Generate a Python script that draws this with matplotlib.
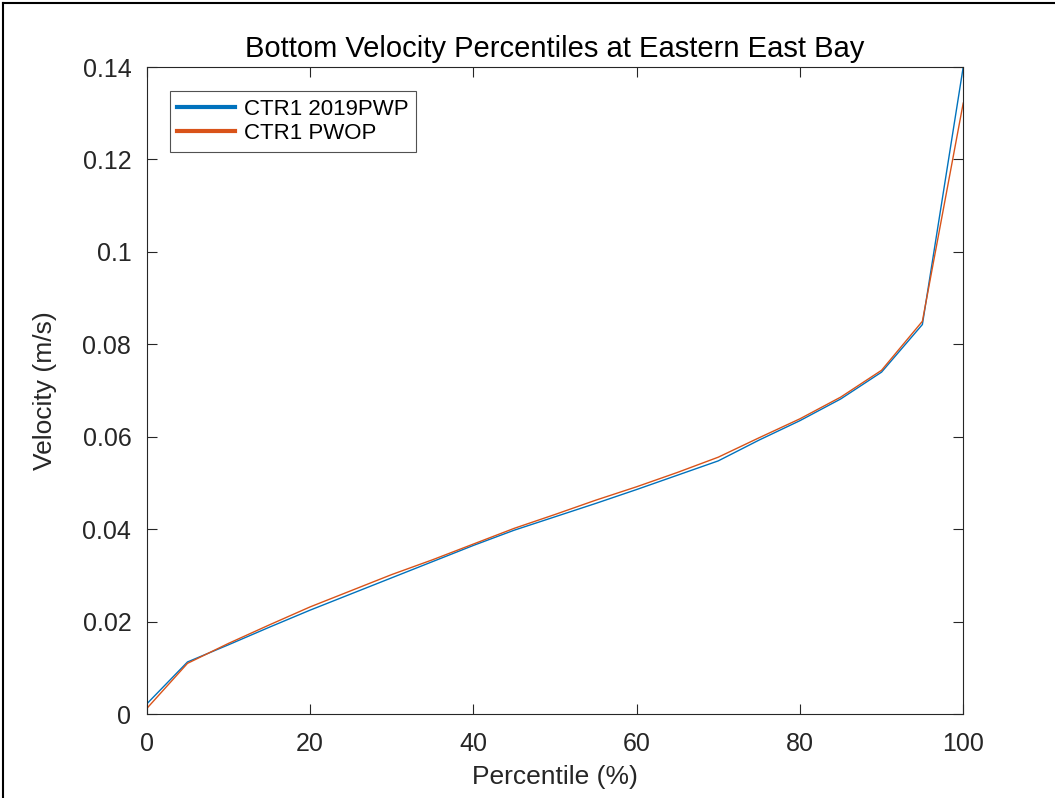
import matplotlib.pyplot as plt
from matplotlib.lines import Line2D

plt.rcParams['font.family'] = ['Liberation Sans', 'DejaVu Sans']

# percentiles and bottom velocity values (m/s)
percentile = [0, 5, 10, 15, 20, 25, 30, 35, 40, 45, 50,
              55, 60, 65, 70, 75, 80, 85, 90, 95, 100]
vel_2019pwp = [0.0022, 0.0113, 0.0150, 0.0188, 0.0225, 0.0260, 0.0295, 0.0330,
               0.0365, 0.0398, 0.0427, 0.0456, 0.0486, 0.0517, 0.0548, 0.0593,
               0.0635, 0.0682, 0.0740, 0.0843, 0.1400]
vel_pwop = [0.0012, 0.0110, 0.0153, 0.0193, 0.0232, 0.0267, 0.0302, 0.0334,
            0.0368, 0.0402, 0.0432, 0.0463, 0.0492, 0.0523, 0.0556, 0.0598,
            0.0639, 0.0686, 0.0744, 0.0850, 0.1322]

labels = ["CTR1 2019PWP", "CTR1 PWOP"]
colors = ["#0072BD", "#D95319"]

fig = plt.figure(figsize=(10.55, 7.98), dpi=100)
ax = fig.add_axes([0.139, 0.105, 0.774, 0.811])

ax.plot(percentile, vel_2019pwp, color=colors[0], lw=1.0)
ax.plot(percentile, vel_pwop, color=colors[1], lw=1.0)

ax.set_xlim(0, 100)
ax.set_ylim(0, 0.14)
ax.set_xticks([0, 20, 40, 60, 80, 100])
ax.set_yticks([0, 0.02, 0.04, 0.06, 0.08, 0.1, 0.12, 0.14])
ax.set_yticklabels(["0", "0.02", "0.04", "0.06", "0.08", "0.1", "0.12", "0.14"])
ax.tick_params(direction='in', top=True, right=True, length=7, width=0.8,
               labelsize=18, colors='#262626')
ax.tick_params(axis='x', pad=13)
ax.tick_params(axis='y', pad=11)
for s in ax.spines.values():
    s.set_color('#262626')
    s.set_linewidth(0.8)

ax.set_title("Bottom Velocity Percentiles at Eastern East Bay", fontsize=21, pad=7)
ax.set_xlabel("Percentile (%)", fontsize=19, color='#262626', labelpad=6)
ax.set_ylabel("Velocity (m/s)", fontsize=19, color='#262626', labelpad=18)

handles = [Line2D([], [], color=c, lw=3) for c in colors]
leg = ax.legend(handles, labels, loc='upper left', bbox_to_anchor=(0.028, 0.963),
                borderaxespad=0, fontsize=16, frameon=True, fancybox=False,
                handlelength=2.6, handletextpad=0.4, borderpad=0.35,
                labelspacing=0.15)
leg.get_frame().set_edgecolor('#262626')
leg.get_frame().set_linewidth(0.8)

# outer frame of the picture
fig.add_artist(Line2D([0.003, 0.003], [0, 0.996], color='black', lw=1.5,
                      transform=fig.transFigure))
fig.add_artist(Line2D([0.003, 1.0], [0.996, 0.996], color='black', lw=1.5,
                      transform=fig.transFigure))

fig.savefig("out.png", dpi=100)
